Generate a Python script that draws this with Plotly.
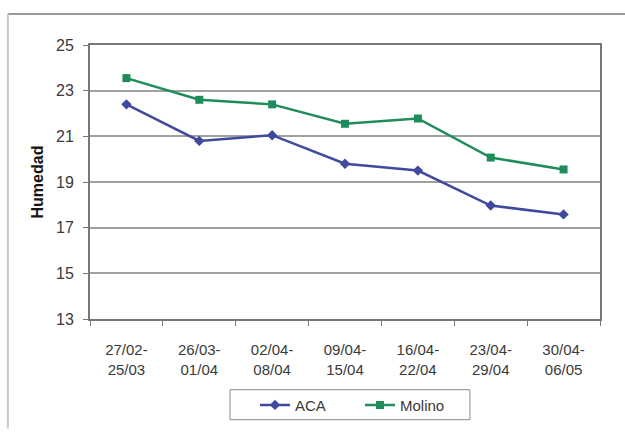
import plotly.graph_objects as go

periods = ["27/02-<br>25/03", "26/03-<br>01/04", "02/04-<br>08/04", "09/04-<br>15/04",
           "16/04-<br>22/04", "23/04-<br>29/04", "30/04-<br>06/05"]
aca = [22.4, 20.8, 21.05, 19.8, 19.5, 17.97, 17.58]
molino = [23.55, 22.6, 22.4, 21.55, 21.78, 20.07, 19.55]
y_ticks = [13, 15, 17, 19, 21, 23, 25]

fig = go.Figure()
fig.add_trace(go.Scatter(
    x=periods, y=aca, name="ACA", mode="lines+markers",
    line=dict(color="#3f4a9e", width=2.5),
    marker=dict(symbol="diamond", size=8, color="#3f4a9e"),
))
fig.add_trace(go.Scatter(
    x=periods, y=molino, name="Molino", mode="lines+markers",
    line=dict(color="#1f8c5c", width=2.5),
    marker=dict(symbol="square", size=8, color="#1f8c5c"),
))

family = "Liberation Sans, Arial, sans-serif"
tick_font = dict(family=family, size=16, color="#3a3a3a")
cat_font = dict(family=family, size=15, color="#3a3a3a")

# plot area spans x 90..600 px and y 45..328 px
fig.update_layout(
    width=625, height=434,
    margin=dict(l=90, r=25, t=45, b=106),
    paper_bgcolor="white", plot_bgcolor="white",
    font=tick_font,
    showlegend=True,
    legend=dict(
        orientation="h", x=0.3235, xanchor="left", y=-0.3145, yanchor="middle",
        borderwidth=0, bgcolor="rgba(0,0,0,0)",
        font=dict(family=family, size=15, color="#3a3a3a"),
        itemwidth=30, entrywidth=60, entrywidthmode="pixels",
    ),
    xaxis=dict(
        type="category", tickson="boundaries", ticks="outside", ticklen=5,
        tickcolor="#777777", showline=True, linecolor="#777777", linewidth=2,
        mirror=True, showgrid=False, tickfont=cat_font, range=[-0.5, 6.5],
        ticklabelstandoff=16,
    ),
    yaxis=dict(
        range=[13, 25], tickvals=y_ticks, ticks="outside", ticklen=5,
        tickcolor="#777777", showline=True, linecolor="#777777", linewidth=2,
        mirror=True, showgrid=True, gridcolor="#a0a0a0", gridwidth=1.5,
        zeroline=False, tickfont=tick_font, ticklabelstandoff=6,
        title=dict(text="<b>Humedad</b>", font=dict(family=family, size=16, color="#151515"),
                   standoff=8),
    ),
    shapes=[
        # outer frame (top and left edges)
        dict(type="line", xref="paper", yref="paper", x0=-0.161, x1=1.1,
             y0=1.113, y1=1.113, line=dict(color="#9a9a9a", width=2)),
        dict(type="line", xref="paper", yref="paper", x0=-0.161, x1=-0.161,
             y0=1.113, y1=-0.4, line=dict(color="#c8c8c8", width=2)),
        # legend box
        dict(type="rect", xref="paper", yref="paper", x0=0.2745, x1=0.745,
             y0=-0.3675, y1=-0.258, line=dict(color="#8a8a8a", width=1)),
    ],
)

fig.write_html("out.html")
